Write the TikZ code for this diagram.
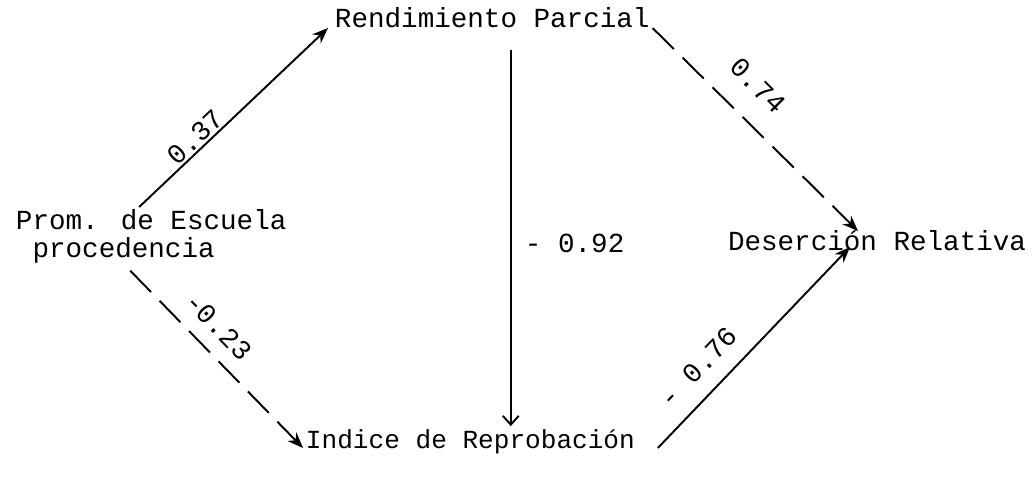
\documentclass[tikz,border=0pt]{standalone}
\usepackage{fontspec}
\newfontfamily\typewriter{Liberation Mono}
\usetikzlibrary{arrows.meta}

\begin{document}
\begin{tikzpicture}[
    every node/.style={font=\typewriter\fontsize{15.7}{15.9}\selectfont, inner sep=1.5pt},
    link/.style={line width=1.1pt, -{Stealth[length=9pt, width=7pt]}},
    dashlink/.style={link, dash pattern=on 17pt off 7pt},
    weight/.style={sloped, above, inner sep=1pt}
]
    \useasboundingbox (0,0) rectangle (20.68,9.58);

    % Variables
    \node[anchor=north west, align=left] (prom) at (0.26,5.44) {Prom. de Escuela\\\phantom{p}procedencia};
    \node[anchor=base west] (rend) at (6.64,9.02) {Rendimiento Parcial};
    \node[anchor=base west, font=\typewriter\fontsize{14.85}{15.9}\selectfont] (indice) at (6.06,0.62) {Indice de Reprobación};
    \node[anchor=base west] (des) at (14.5,4.58) {Deserción Relativa};
    \coordinate (vtop) at ([xshift=0.37cm, yshift=-0.38cm]rend.south);

    % Paths
    \draw[link] ([xshift=-0.24cm]prom.north) -- ([xshift=-0.08cm]rend.base west)
        node[weight, pos=0.34] {0.37};
    \draw[dashlink] ([xshift=-0.42cm, yshift=-0.08cm]prom.south) -- (indice.base west)
        node[weight, pos=0.41, above=7pt] {-0.23};
    \draw[dashlink] (rend.base east) -- ([xshift=-0.38cm, yshift=-0.08cm]des.north)
        node[weight, pos=0.40, above=12pt] {0.74};
    \draw[line width=1.1pt, -{Straight Barb[length=5pt, width=9pt]}] (vtop) -- (vtop |- indice.north);
    \node[anchor=base west] (rendind) at (10.44,4.54) {- 0.92};
    \draw[link] ([xshift=0.4cm]indice.base east) -- ([xshift=-0.54cm, yshift=0.06cm]des.base)
        node[weight, pos=0.31, above=8pt] {- 0.76};
\end{tikzpicture}
\end{document}
